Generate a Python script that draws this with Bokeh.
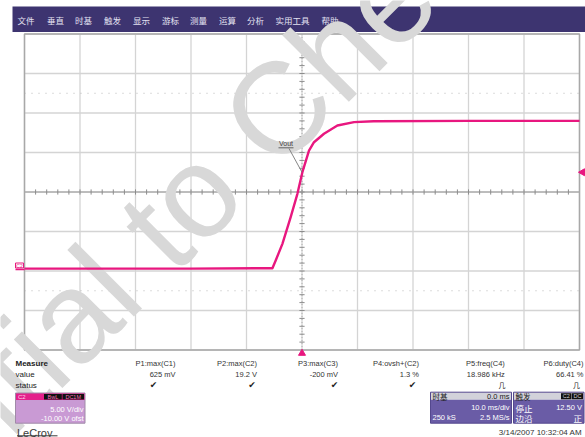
import math
from bokeh.plotting import figure
from bokeh.models import Range1d
from bokeh.core.properties import value
from bokeh.embed import file_html
from bokeh.resources import INLINE

# ---------------- data ----------------
MENU = ["文件", "垂直", "时基", "触发", "显示", "游标", "测量", "运算", "分析", "实用工具", "帮助"]

# trace C2 (Vout): time in ms, level in V
TRACE_T = [-50.0, -20.0, -5.33, -4.74, -3.53, -2.04, -0.83, 0.07, 1.26, 2.16, 3.96, 6.38, 9.37, 12.9, 30.0, 50.0]
TRACE_V = [0.3, 0.3, 0.35, 1.33, 3.44, 6.81, 9.77, 12.51, 15.25, 16.30, 17.37, 18.42, 18.84, 18.96, 19.0, 19.0]
TRACE_NAME = "Vout"

VOLTS_PER_DIV = 5.0
OFFSET_V = -10.0
MS_PER_DIV = 10.0
DELAY_MS = 0.0
TRIG_LEVEL_V = 12.5

ROW_LABELS = ["Measure", "value", "status"]
MEAS_NAMES = ["P1:max(C1)", "P2:max(C2)", "P3:max(C3)", "P4:ovsh+(C2)", "P5:freq(C4)", "P6:duty(C4)"]
MEAS_VALUES = ["625 mV", "19.2 V", "-200 mV", "1.3 %", "18.986 kHz", "66.41 %"]
MEAS_STATUS = ["✔", "✔", "✔", "✔", "几", "几"]

CH_LABEL = "C2"
CH_TAGS = ["BwL", "DC1M"]
CH_LINES = ["5.00 V/div", "-10.00 V ofst"]
TB_TITLE, TB_DELAY, TB_DIV, TB_SAMPLES, TB_RATE = "时基", "0.0 ms", "10.0 ms/div", "250 kS", "2.5 MS/s"
TR_TITLE, TR_TAGS = "触发", ["C2", "DC"]
TR_MODE, TR_LEVEL, TR_TYPE, TR_SLOPE = "停止", "12.50 V", "边沿", "正"
TIMESTAMP = "3/14/2007 10:32:04 AM"
BRAND = "LeCroy"
WATERMARK = ["Confident", "ial to Chen"]

# ---------------- layout ----------------
W, H = 585, 437
PX_X0, PX_X1, PX_Y0, PX_Y1 = 0, 585, 0, 437
GX0, GX1, GY0, GY1 = 24.0, 579.0, 33.5, 349.5
NDIV_X, NDIV_Y = 10, 8
px_per_ms = (GX1 - GX0) / (NDIV_X * MS_PER_DIV)
px_per_v = (GY1 - GY0) / (NDIV_Y * VOLTS_PER_DIV)
gxc, gyc = (GX0 + GX1) / 2, (GY0 + GY1) / 2
vc = -OFFSET_V


def t_of(px):
    return DELAY_MS + (px - gxc) / px_per_ms


def v_of(py):
    return vc + (gyc - py) / px_per_v


def py_of(v):
    return gyc - (v - vc) * px_per_v


T_MIN = DELAY_MS - NDIV_X / 2 * MS_PER_DIV
T_MAX = DELAY_MS + NDIV_X / 2 * MS_PER_DIV
V_MIN = vc - NDIV_Y / 2 * VOLTS_PER_DIV
V_MAX = vc + NDIV_Y / 2 * VOLTS_PER_DIV

PINK = "#e8177f"
SANS = value("Liberation Sans")
CJK = value("Noto Sans CJK SC")

p = figure(width=W, height=H, x_range=Range1d(PX_X0, PX_X1), y_range=Range1d(PX_Y1, PX_Y0),
           output_backend="svg", toolbar_location=None, min_border=0,
           x_axis_location=None, y_axis_location=None)
p.grid.visible = False
p.outline_line_color = None
p.background_fill_color = "white"
p.border_fill_color = "white"
p.extra_x_ranges = {"t": Range1d(t_of(PX_X0), t_of(PX_X1))}
p.extra_y_ranges = {"v": Range1d(v_of(PX_Y1), v_of(PX_Y0))}
TV = dict(x_range_name="t", y_range_name="v")


def txt(xs, ys, texts, align="left", size=7.5, color="#333333", font=SANS,
        baseline="middle", style="normal", angle=0.0, **kw):
    p.text(x=list(xs), y=list(ys), text=list(texts), text_align=align, text_baseline=baseline,
           text_font_size=value(f"{size}px"), text_color=color, text_font=font,
           text_font_style=style, angle=angle, **kw)


# ---- title / menu bar ----
p.quad(left=[12], right=[585], top=[6], bottom=[31.5], fill_color="#3d3470", line_color=None)
MENU_X = [25.5, 55, 83, 112, 141, 170, 198, 227, 255, 292, 329.5]
txt(MENU_X, [19] * len(MENU), MENU, align="center", size=8.5, color="#e4e2f2", font=CJK)

# ---- graticule ----
vt = [T_MIN + i * MS_PER_DIV for i in range(NDIV_X + 1)]
hv = [V_MIN + j * VOLTS_PER_DIV for j in range(NDIV_Y + 1)]
p.segment(x0=vt, y0=[V_MIN] * len(vt), x1=vt, y1=[V_MAX] * len(vt), line_color="#d4d4d4", line_width=1.3, **TV)
p.segment(x0=[T_MIN] * len(hv), y0=hv, x1=[T_MAX] * len(hv), y1=hv, line_color="#d4d4d4", line_width=1.3, **TV)
dv = [vc - 2.5 * VOLTS_PER_DIV, vc + 2.5 * VOLTS_PER_DIV]
p.segment(x0=[T_MIN] * 2, y0=dv, x1=[T_MAX] * 2, y1=dv, line_color="#b8b8b8", line_width=1, line_dash="1 6", **TV)
# centre axes with minor ticks
p.segment(x0=[T_MIN], y0=[vc], x1=[T_MAX], y1=[vc], line_color="#9a9a9a", line_width=1, **TV)
p.segment(x0=[DELAY_MS], y0=[V_MIN], x1=[DELAY_MS], y1=[V_MAX], line_color="#b0b0b0", line_width=1, line_dash="1 2", **TV)
tt = [T_MIN + k * MS_PER_DIV / 5 for k in range(1, NDIV_X * 5)]
hlen = 2.6 / px_per_v
p.segment(x0=tt, y0=[vc - hlen] * len(tt), x1=tt, y1=[vc + hlen] * len(tt), line_color="#8c8c8c", line_width=1, **TV)
tv = [V_MIN + k * VOLTS_PER_DIV / 5 for k in range(1, NDIV_Y * 5)]
wlen = 2.6 / px_per_ms
p.segment(x0=[DELAY_MS - wlen] * len(tv), y0=tv, x1=[DELAY_MS + wlen] * len(tv), y1=tv, line_color="#8c8c8c", line_width=1, **TV)
p.quad(left=[T_MIN], right=[T_MAX], bottom=[V_MIN], top=[V_MAX], fill_color=None, line_color="#a8a8a8", line_width=1.5, **TV)

# ---- watermark ----
WM_X, WM_Y = 24.0, 362.0
txt([WM_X], [WM_Y], [WATERMARK[0]], align="right", size=130, color="#d8d8d8", baseline="alphabetic", angle=math.pi / 4)
txt([WM_X], [WM_Y], [WATERMARK[1]], align="left", size=130, color="#d8d8d8", baseline="alphabetic", angle=math.pi / 4)

# ---- trace ----
p.line(TRACE_T, TRACE_V, line_color=PINK, line_width=2.4, line_join="round", **TV)

# ---- markers ----
p.scatter([DELAY_MS], [V_MIN - 3.3 / px_per_v], marker="triangle", size=7, color=PINK, **TV)
p.scatter([T_MAX + 3.0 / px_per_ms], [TRIG_LEVEL_V], marker="triangle", size=7, angle=math.pi / 2, color=PINK, **TV)
gy = py_of(0.0)
p.quad(left=[15], right=[23], top=[gy - 8], bottom=[gy - 3], fill_color="white", line_color=PINK, line_width=1)
txt([19], [gy - 5.5], [CH_LABEL], align="center", size=5, color=PINK)
p.segment(x0=[15], y0=[gy - 1.5], x1=[GX0], y1=[gy - 1.5], line_color=PINK, line_width=1.5)

# ---- Vout annotation ----
ax, ay = 285.5, 143.0
txt([ax], [ay], [TRACE_NAME], align="center", size=7, color="#444444")
p.segment(x0=[ax - 7.5], y0=[ay + 4.3], x1=[ax + 7.5], y1=[ay + 4.3], line_color="#444444", line_width=0.8)
p.segment(x0=[t_of(ax + 3)], y0=[v_of(ay + 5)], x1=[DELAY_MS], y1=[TRIG_LEVEL_V], line_color="#777777", line_width=0.9, **TV)

# ---- measure table ----
ROW_Y = [362.7, 374.0, 384.5]
txt([15] * 2, ROW_Y[1:], ROW_LABELS[1:], size=8, color="#222222")
txt([15], [ROW_Y[0]], [ROW_LABELS[0]], size=8, color="#222222", style="bold")
COL_R = [175, 256.5, 337.5, 418.5, 504.3, 583]
STAT_X = [153, 251.5, 334, 412, 501.5, 576]
txt(COL_R, [ROW_Y[0]] * 6, MEAS_NAMES, align="right", size=7.5, color="#333333")
txt(COL_R, [ROW_Y[1]] * 6, MEAS_VALUES, align="right", size=7.5, color="#333333")
txt(STAT_X[:4], [ROW_Y[2]] * 4, MEAS_STATUS[:4], align="center", size=9, color="#222222", font=value("DejaVu Sans"))
txt(STAT_X[4:], [ROW_Y[2]] * 2, MEAS_STATUS[4:], align="center", size=7, color="#222222", font=CJK)

# ---- channel panel ----
PT, PH, PB = 392.5, 399.5, 422.7
p.quad(left=[15], right=[84.5], top=[PT], bottom=[PH], fill_color="#e4208b", line_color=None)
p.quad(left=[15], right=[84.5], top=[PH], bottom=[PB], fill_color="#c99ad4", line_color=None)
p.quad(left=[15], right=[84.5], top=[PT], bottom=[PB], fill_color=None, line_color="#a08aa8", line_width=1)
p.quad(left=[43.5, 62], right=[61.3, 83.5], top=[PT + 1] * 2, bottom=[PH - 0.5] * 2, fill_color="#111111", line_color=None)
txt([17.5], [(PT + PH) / 2], [CH_LABEL], size=6, color="#ffd0ea")
txt([52.4, 72.7], [(PT + PH) / 2 + 0.3] * 2, CH_TAGS, align="center", size=5.5, color="#f070b8")
txt([83, 83], [408.7, 417.7], CH_LINES, align="right", size=7.5, color="#ffffff")

# ---- timebase & trigger panels ----
PT2, PH2, PB2 = 391.7, 399.3, 422.7
for (l, r) in [(430, 511), (513, 583.5)]:
    p.quad(left=[l], right=[r], top=[PT2], bottom=[PH2], fill_color="#d2d2da", line_color=None)
    p.quad(left=[l], right=[r], top=[PH2], bottom=[PB2], fill_color="#6a5ca6", line_color=None)
    p.quad(left=[l], right=[r], top=[PT2], bottom=[PB2], fill_color=None, line_color="#54488e", line_width=1)
txt([432], [(PT2 + PH2) / 2], [TB_TITLE], size=7.5, color="#202020", font=CJK)
txt([509], [(PT2 + PH2) / 2], [TB_DELAY], align="right", size=7.5, color="#202020")
txt([509, 509], [407.3, 417.3], [TB_DIV, TB_RATE], align="right", size=7.5, color="#ffffff")
txt([432], [417.3], [TB_SAMPLES], size=7.5, color="#ffffff")
txt([515], [(PT2 + PH2) / 2], [TR_TITLE], size=7.5, color="#202020", font=CJK)
p.quad(left=[560.5, 571.5], right=[571, 582.5], top=[PT2 + 1] * 2, bottom=[PH2 - 0.5] * 2, fill_color="#111111", line_color=None)
txt([565.7, 577], [(PT2 + PH2) / 2 + 0.3] * 2, TR_TAGS, align="center", size=5.5, color="#d0d0d0")
txt([515, 515], [407.3, 417.3], [TR_MODE, TR_TYPE], size=8.5, color="#ffffff", font=CJK)
txt([581.5], [407.3], [TR_LEVEL], align="right", size=7.5, color="#ffffff")
txt([581.5], [417.3], [TR_SLOPE], align="right", size=8.5, color="#ffffff", font=CJK)

# ---- footer ----
txt([16.5], [432.5], [BRAND], size=11, color="#3a3a3a", baseline="alphabetic")
p.segment(x0=[16.5], y0=[435.3], x1=[57], y1=[435.3], line_color="#3a3a3a", line_width=1)
txt([581.5], [432.3], [TIMESTAMP], align="right", size=8, color="#333333", baseline="alphabetic")

open("out.html", "w").write(file_html(p, INLINE))
